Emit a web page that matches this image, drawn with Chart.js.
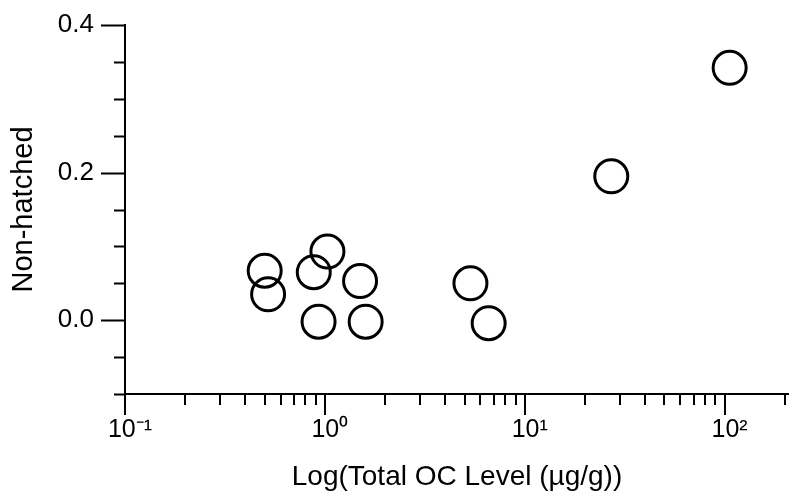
<!DOCTYPE html>
<html>
<head>
<meta charset="utf-8">
<script src="https://cdn.jsdelivr.net/npm/chart.js@4.4.1/dist/chart.umd.min.js"></script>
<style>
  body { margin: 0; background: #fff; }
  canvas { display: block; }
</style>
</head>
<body>
<canvas id="myChart" width="789" height="499"></canvas>
<script>
// data
var totalOC = [0.50, 0.52, 0.88, 1.03, 0.93, 1.50, 1.60, 5.35, 6.6, 27.1, 106];
var nonHatched = [0.067, 0.035, 0.065, 0.093, -0.002, 0.053, -0.002, 0.050, -0.004, 0.195, 0.342];

var xDecades = [0.1, 1, 10, 100];
var xMinorSteps = [2, 3, 4, 5, 6, 7, 8, 9];
var yLabelTicks = [0, 0.2, 0.4];
var yStep = 0.05;

var sup = { '-': '\u207B', '0': '\u2070', '1': '\u00B9', '2': '\u00B2', '3': '\u00B3' };
function powLabel(v) {
  var e = String(Math.round(Math.log10(v)));
  var s = '';
  for (var i = 0; i < e.length; i++) s += sup[e[i]];
  return '10' + s;
}

// minor / major tick marks drawn outside the axes
var tickMarks = {
  id: 'tickMarks',
  afterDraw: function (chart) {
    var ctx = chart.ctx;
    var xs = chart.scales.x, ys = chart.scales.y;
    var left = chart.chartArea.left, bottom = chart.chartArea.bottom;
    ctx.save();
    ctx.strokeStyle = '#000';
    ctx.lineWidth = 2;
    ctx.beginPath();
    // y axis
    for (var v = ys.min; v <= ys.max + 1e-9; v += yStep) {
      var py = Math.round(ys.getPixelForValue(v)) + 0.5;
      var major = yLabelTicks.some(function (t) { return Math.abs(t - v) < 1e-6; });
      ctx.moveTo(left - (major ? 24 : 11), py);
      ctx.lineTo(left + 1, py);
    }
    // x axis
    xDecades.forEach(function (d) {
      var px = Math.round(xs.getPixelForValue(d));
      ctx.moveTo(px, bottom);
      ctx.lineTo(px, bottom + 21);
      xMinorSteps.forEach(function (m) {
        var val = m * d;
        if (val > xs.max) return;
        var mx = Math.round(xs.getPixelForValue(val));
        ctx.moveTo(mx, bottom);
        ctx.lineTo(mx, bottom + 11);
      });
    });
    ctx.stroke();
    ctx.restore();
  }
};

var fontFamily = '"Liberation Sans", Arial, sans-serif';
var ctx = document.getElementById('myChart').getContext('2d');
var myChart = new Chart(ctx, {
  type: 'scatter',
  data: {
    datasets: [{
      label: 'Non-hatched',
      data: totalOC.map(function (x, i) { return { x: x, y: nonHatched[i] }; }),
      pointStyle: 'circle',
      pointRadius: 16.5,
      pointHoverRadius: 16.5,
      borderWidth: 3,
      borderColor: '#000',
      backgroundColor: 'rgba(0,0,0,0)',
      clip: false
    }]
  },
  options: {
    responsive: false,
    animation: false,
    layout: { autoPadding: false, padding: { top: 25, right: 0, left: 0, bottom: 0 } },
    plugins: {
      legend: { display: false },
      tooltip: { enabled: false }
    },
    scales: {
      x: {
        type: 'logarithmic',
        min: 0.1,
        max: 210,
        afterBuildTicks: function (scale) {
          scale.ticks = xDecades.map(function (v) { return { value: v }; });
        },
        afterFit: function (scale) {
          scale.height = 105;
          scale.paddingLeft = 0;
          scale.paddingRight = 0;
        },
        grid: { display: false, drawTicks: false },
        border: { display: true, color: '#000', width: 2 },
        ticks: {
          autoSkip: false,
          maxRotation: 0,
          padding: 21,
          labelOffset: 5,
          color: '#000',
          font: { family: fontFamily, size: 25 },
          callback: function (v) { return powLabel(v); }
        },
        title: {
          display: true,
          text: 'Log(Total OC Level (\u00B5g/g))',
          color: '#000',
          font: { family: fontFamily, size: 28 },
          padding: { top: 0, bottom: 5 }
        }
      },
      y: {
        min: -0.1,
        max: 0.4,
        afterBuildTicks: function (scale) {
          scale.ticks = yLabelTicks.map(function (v) { return { value: v }; });
        },
        afterFit: function (scale) {
          scale.width = 125;
          scale.paddingTop = 0;
          scale.paddingBottom = 0;
        },
        grid: { display: false, drawTicks: false },
        border: { display: true, color: '#000', width: 2 },
        ticks: {
          padding: 31,
          color: '#000',
          font: { family: fontFamily, size: 26 },
          callback: function (v) { return v.toFixed(1); }
        },
        title: {
          display: true,
          text: 'Non-hatched',
          color: '#000',
          font: { family: fontFamily, size: 29 },
          padding: { top: 7, bottom: 0 }
        }
      }
    }
  },
  plugins: [tickMarks]
});
</script>
</body>
</html>
